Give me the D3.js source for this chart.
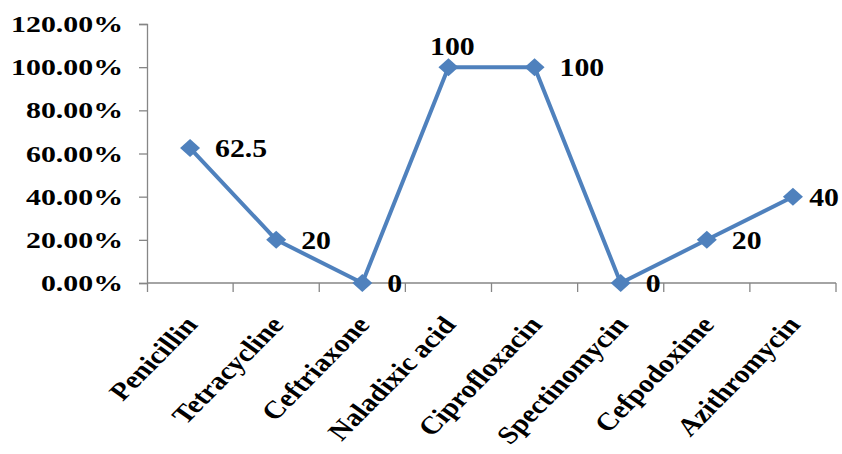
<!DOCTYPE html>
<html>
<head>
<meta charset="utf-8">
<script src="https://cdn.jsdelivr.net/npm/d3@7"></script>
<style>
  body { margin: 0; background: #fff; }
</style>
</head>
<body>
<div id="chart"></div>
<script>
// Chart data
const antibiotics = ["Penicillin", "Tetracycline", "Ceftriaxone", "Naladixic acid",
                     "Ciprofloxacin", "Spectinomycin", "Cefpodoxime", "Azithromycin"];
const resistance = [62.5, 20, 0, 100, 100, 0, 20, 40]; // percent
const yTicks = [0, 0.2, 0.4, 0.6, 0.8, 1.0, 1.2];

// labels that sit above the point instead of to the right
const labelsAbove = new Set(["Naladixic acid"]);

const width = 842;
const height = 454;

// pick a Times-like font that is really installed
const ctx = document.createElement("canvas").getContext("2d");
function hasFont(name) {
  const s = "Naladixic acid 120.00%";
  ctx.font = "bold 40px monospace";
  const a = ctx.measureText(s).width;
  ctx.font = "bold 40px '" + name + "', monospace";
  return ctx.measureText(s).width !== a;
}
const serif = ["Liberation Serif", "Times New Roman", "Tinos", "Nimbus Roman", "Times", "DejaVu Serif"]
  .find(hasFont) || "serif";

// the text in the picture is a bit wide; fit the "120.00%" label to 112px
ctx.font = "bold 24px '" + serif + "'";
const stretch = 112 / ctx.measureText("120.00%").width;

const svg = d3.select("#chart")
  .append("svg")
  .attr("width", width)
  .attr("height", height)
  .style("font-family", "'" + serif + "', serif")
  .style("font-weight", "bold");

const x = d3.scaleBand()
  .domain(antibiotics)
  .range([147, 836]);

const y = d3.scaleLinear()
  .domain([0, 1.2])
  .range([283, 24]);

const axisColor = "#868686";

// y axis
const yAxis = svg.append("g")
  .attr("transform", "translate(147,0)")
  .call(d3.axisLeft(y).tickValues(yTicks).tickSize(8).tickFormat(""));
yAxis.select(".domain").attr("stroke", axisColor).attr("stroke-width", 1.3);
yAxis.selectAll(".tick line").attr("stroke", axisColor).attr("stroke-width", 1.3);

svg.append("g")
  .selectAll("text")
  .data(yTicks)
  .enter()
  .append("text")
  .attr("transform", d => "translate(123," + y(d) + ") scale(" + stretch + ",1)")
  .attr("text-anchor", "end")
  .attr("dy", "0.34em")
  .style("font-size", "24px")
  .text(d => d3.format(".2%")(d));

// x axis, ticks at band edges
const xAxis = svg.append("g")
  .attr("transform", "translate(0,283)");
xAxis.append("line")
  .attr("x1", 147).attr("x2", 836)
  .attr("stroke", axisColor).attr("stroke-width", 1.3);
xAxis.selectAll(".xtick")
  .data(antibiotics)
  .enter()
  .append("line")
  .attr("class", "xtick")
  .attr("x1", d => x(d) + x.bandwidth())
  .attr("x2", d => x(d) + x.bandwidth())
  .attr("y1", 0).attr("y2", 9)
  .attr("stroke", axisColor).attr("stroke-width", 1.3);
xAxis.append("line")
  .attr("x1", 147.5).attr("x2", 147.5)
  .attr("y1", 0).attr("y2", 9)
  .attr("stroke", axisColor).attr("stroke-width", 1.3);

const xs = stretch * 0.95;
svg.append("g")
  .selectAll("text")
  .data(antibiotics)
  .enter()
  .append("text")
  .attr("transform", d => "translate(" + (x(d) + x.bandwidth() / 2 + 1) + ",320) scale(" + xs + ",1) rotate(-50)")
  .attr("text-anchor", "end")
  .attr("dy", "0.34em")
  .style("font-size", "25px")
  .text(d => d);

// the line
const points = antibiotics.map((a, i) => ({ name: a, value: resistance[i] }));
const cx = d => x(d.name) + x.bandwidth() / 2;
const cy = d => y(d.value / 100);

const line = d3.line().x(cx).y(cy);
const blue = "#4F81BD";

svg.append("path")
  .datum(points)
  .attr("d", line)
  .attr("fill", "none")
  .attr("stroke", blue)
  .attr("stroke-width", 4)
  .attr("stroke-linejoin", "round");

// diamond markers
svg.selectAll(".marker")
  .data(points)
  .enter()
  .append("path")
  .attr("class", "marker")
  .attr("transform", d => "translate(" + cx(d) + "," + cy(d) + ")")
  .attr("d", "M0,-9L10,0L0,9L-10,0Z")
  .attr("fill", blue);

// data labels
const ds = stretch * 0.92;
const labels = svg.selectAll(".dlabel")
  .data(points)
  .enter()
  .append("text")
  .attr("class", "dlabel")
  .attr("dy", "0.34em")
  .style("font-size", "26px")
  .text(d => d.value);

labels.each(function(d) {
  const t = d3.select(this);
  const w = this.getComputedTextLength() * ds;
  let lx, ly;
  if (labelsAbove.has(d.name)) {
    lx = cx(d) - w / 2 + 4;
    ly = cy(d) - 21;
  } else {
    lx = Math.min(cx(d) + 25, width - 3 - w);
    ly = cy(d);
  }
  t.attr("transform", "translate(" + lx + "," + ly + ") scale(" + ds + ",1)");
});
</script>
</body>
</html>
